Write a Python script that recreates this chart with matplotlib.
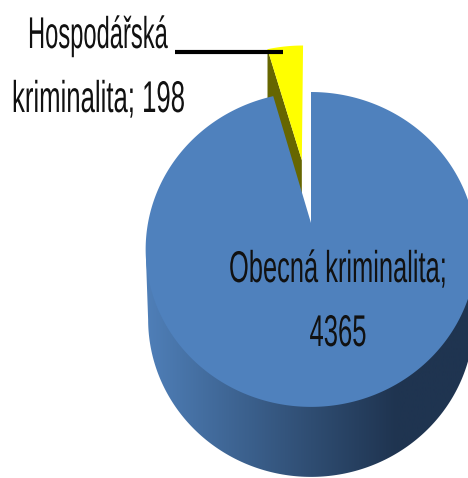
import numpy as np
import matplotlib
matplotlib.use("Agg")
import matplotlib.pyplot as plt
from matplotlib.patches import Polygon
from matplotlib.patheffects import AbstractPathEffect
from matplotlib.transforms import Affine2D
from matplotlib.colors import LinearSegmentedColormap

categories = ["Obecná kriminalita", "Hospodářská kriminalita"]
values = [4365, 198]
slice_colors = ["#4f81bd", "#ffff00"]
side_color = "#666600"
wall_stops = ["#4f7fb8", "#2f4d72", "#1f3450", "#1f3450"]

plt.rcParams["font.family"] = ["Liberation Sans Narrow", "Liberation Sans", "DejaVu Sans"]

W, H = 468, 478
fig = plt.figure(figsize=(W / 100, H / 100), dpi=100)
ax = fig.add_axes([0, 0, 1, 1])
ax.set_xlim(0, W)
ax.set_ylim(H, 0)
ax.axis("off")

CX, CY, RX, RY, K = 311, 223, 163, 153, 0.168
DEPTH = 70
EXPLODE = 0.445


def project(u, v, shift=0.0, scale=1.0):
    w = 1 + K * v
    return np.column_stack([CX + RX * scale * u / w, CY + shift - RY * v / w])


def arc(a0, a1, n=200, du=0.0, dv=0.0, **kw):
    t = np.radians(np.linspace(a0, a1, n))
    return project(np.sin(t) + du, np.cos(t) + dv, **kw)


share = np.array(values, float) / sum(values) * 360
main, small = share

# blue wall with horizontal gradient
tk = np.degrees(np.arccos(-K))
lower = arc(tk, 360 - tk, shift=DEPTH, scale=0.985)
ext_l = arc(360 - tk, 360 - tk, 1)
ext_r = arc(tk, tk, 1)
wall = Polygon(np.vstack([lower, ext_l, ext_r]), closed=True, transform=ax.transData,
               fc="none", ec="none")
ax.add_patch(wall)
cmap = LinearSegmentedColormap.from_list("wall", list(zip([0, 0.5, 0.76, 1], wall_stops)))
grad = ax.imshow(np.linspace(0, 1, 256)[None, :], cmap=cmap, extent=(146, 476, H, 0),
                 aspect="auto", zorder=1)
grad.set_clip_path(wall)
ax.set_xlim(0, W)
ax.set_ylim(H, 0)

# exploded small slice
mid = np.radians(-small / 2)
du, dv = EXPLODE * np.sin(mid), EXPLODE * np.cos(mid)
apex_y = project(np.array([du]), np.array([dv]))
edge_y = arc(-small, 0, 60, du=du, dv=dv)
side = np.vstack([edge_y[:1], apex_y, apex_y + [0, DEPTH], edge_y[:1] + [0, DEPTH]])
ax.add_patch(Polygon(side, closed=True, fc=side_color, ec="none", zorder=2))
ax.add_patch(Polygon(np.vstack([apex_y, edge_y]), closed=True, fc=slice_colors[1], ec="none", zorder=3))

# main slice top face
apex = project(np.array([0.0]), np.array([0.0]))
ax.add_patch(Polygon(np.vstack([apex, arc(0, main, 400)]), closed=True,
                     fc=slice_colors[0], ec="none", zorder=4))


class Squeeze(AbstractPathEffect):
    def __init__(self, x0, sx):
        super().__init__()
        self.x0, self.sx = x0, sx

    def draw_path(self, renderer, gc, tpath, affine, rgbFace=None):
        t = affine + Affine2D().translate(-self.x0, 0).scale(self.sx, 1).translate(self.x0, 0)
        renderer.draw_path(gc, tpath, t, rgbFace)


renderer = fig.canvas.get_renderer()


def label(x, y, s, ha, target_width, size=32):
    t = ax.text(x, y, s, fontsize=size, color="#111111", ha=ha, va="baseline", zorder=6)
    sx = target_width / t.get_window_extent(renderer).width
    x0 = ax.transData.transform((x, y))[0]
    t.set_path_effects([Squeeze(x0, sx)])


first, second = categories[1].split(" ")
label(28, 48, first, "left", 140)
label(12, 112, f"{second}; {values[1]}", "left", 173)
label(447, 282, f"{categories[0]};", "right", 218)
label(338, 346, f"{values[0]}", "center", 57)

ax.plot([175, 283], [51.5, 51.5], color="black", lw=3, solid_capstyle="butt", zorder=5)

fig.savefig("out.png", dpi=100)
